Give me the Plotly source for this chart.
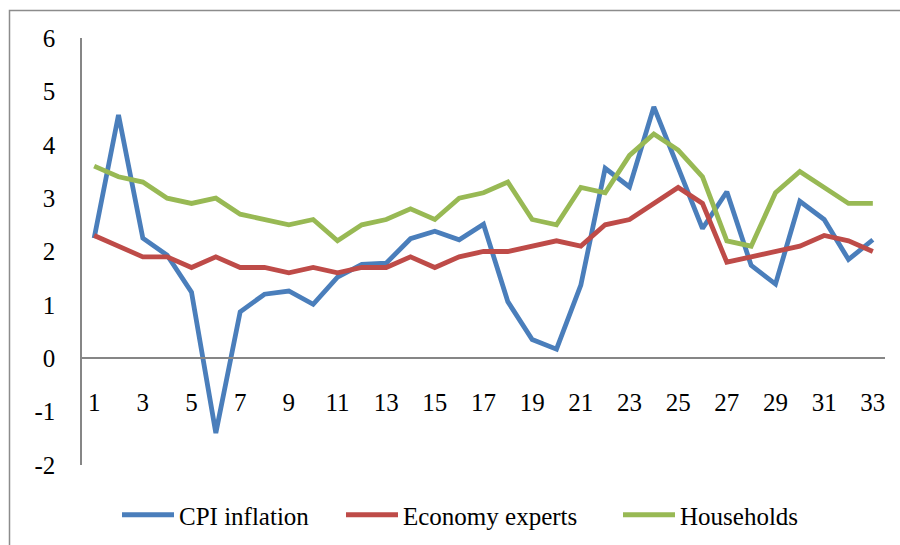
import plotly.graph_objects as go

periods = list(range(1, 34))
cpi_inflation = [2.25, 4.56, 2.25, 1.93, 1.24, -1.40, 0.87, 1.20, 1.26, 1.01,
                 1.52, 1.76, 1.78, 2.24, 2.38, 2.22, 2.51, 1.06, 0.35, 0.17,
                 1.37, 3.56, 3.21, 4.71, 3.57, 2.43, 3.12, 1.74, 1.39, 2.94,
                 2.60, 1.85, 2.22]
economy_experts = [2.3, 2.1, 1.9, 1.9, 1.7, 1.9, 1.7, 1.7, 1.6, 1.7,
                   1.6, 1.7, 1.7, 1.9, 1.7, 1.9, 2.0, 2.0, 2.1, 2.2,
                   2.1, 2.5, 2.6, 2.9, 3.2, 2.9, 1.8, 1.9, 2.0, 2.1,
                   2.3, 2.2, 2.0]
households = [3.6, 3.4, 3.3, 3.0, 2.9, 3.0, 2.7, 2.6, 2.5, 2.6,
              2.2, 2.5, 2.6, 2.8, 2.6, 3.0, 3.1, 3.3, 2.6, 2.5,
              3.2, 3.1, 3.8, 4.2, 3.9, 3.4, 2.2, 2.1, 3.1, 3.5,
              3.2, 2.9, 2.9]
series_names = ["CPI inflation", "Economy experts", "Households"]
x_ticks = list(range(1, 34, 2))
y_ticks = list(range(-2, 7))
y_tick_labels = ["-2", "-1", "0", "1", "2", "3", "4", "5", "6"]

colors = ["#4A7EBB", "#BE4B48", "#98B954"]
FONT = "Liberation Serif"

W, H = 900, 545
L, R, T, B = 82, 15, 38, 80
pw, ph = W - L - R, H - T - B

def px_x(px):
    return (px - L) / pw

def px_y(py):
    return (H - B - py) / ph

legend_ids = ["legend", "legend2", "legend3"]
legend_left_px = [117, 341, 618]

fig = go.Figure()
for name, vals, col, lg in zip(series_names, [cpi_inflation, economy_experts, households],
                               colors, legend_ids):
    fig.add_trace(go.Scatter(x=periods, y=vals, mode="lines", name=name, legend=lg,
                             line=dict(color=col, width=4.8)))

legend_common = dict(orientation="h", xanchor="left", y=px_y(515), yanchor="middle",
                     font=dict(family=FONT, size=25), itemwidth=52,
                     bgcolor="rgba(0,0,0,0)")

fig.update_layout(
    width=W, height=H,
    margin=dict(l=L, r=R, t=T, b=B, autoexpand=False),
    paper_bgcolor="white", plot_bgcolor="white",
    font=dict(family=FONT, size=25, color="black"),
    showlegend=True,
    legend=dict(x=px_x(legend_left_px[0]), **legend_common),
    legend2=dict(x=px_x(legend_left_px[1]), **legend_common),
    legend3=dict(x=px_x(legend_left_px[2]), **legend_common),
    xaxis=dict(range=[0.5, 33.5], tickvals=x_ticks, ticktext=[str(v) for v in x_ticks],
               showgrid=False, zeroline=False, showline=True, linecolor="#868686",
               linewidth=1.5, anchor="free", position=px_y(358), ticks="",
               ticklabelstandoff=22, automargin=False),
    yaxis=dict(range=[-2, 6], tickvals=y_ticks, ticktext=y_tick_labels,
               showgrid=False, zeroline=False,
               showline=True, linecolor="#868686", linewidth=1.5, ticks="",
               ticklabelstandoff=20, automargin=False),
    shapes=[dict(type="rect", xref="paper", yref="paper",
                 x0=px_x(9.5), x1=px_x(910), y0=px_y(560), y1=px_y(10.5),
                 line=dict(color="#8C8C8C", width=1.5), fillcolor="rgba(0,0,0,0)",
                 layer="below")],
)

fig.write_html("out.html", config={"displayModeBar": False},
               post_script="document.body.style.margin='0';document.body.style.padding='0';")
